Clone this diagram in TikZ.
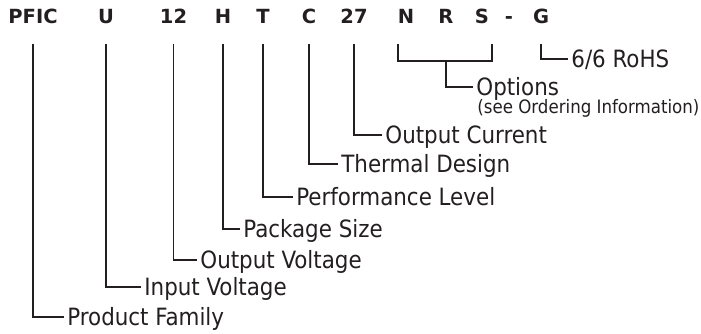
\documentclass[tikz,border=0pt]{standalone}
\usepackage{fontspec}
\setmainfont{DejaVu Sans}
\newfontfamily\labelfont{DejaVu Sans Condensed}
\definecolor{ink}{HTML}{231F20}
\begin{document}
\begin{tikzpicture}[x=1pt, y=1pt, line width=1.8pt, color=ink,
    code/.style={font=\fontsize{19.5}{20}\selectfont\bfseries, anchor=base, inner sep=0pt, text depth=0pt},
    lbl/.style={font=\labelfont\fontsize{23.8}{25}\selectfont, anchor=west, inner xsep=2.5pt, inner ysep=0pt, text height=17pt, text depth=0pt}]
            \useasboundingbox (0,0) rectangle (701,-334);
            \def \t {-24}
            \def \d {-19pt}
            \node[code] (pfic) at (33,\t) {PFIC};
            \node[code] (u) at (106,\t) {U};
            \node[code] (vo) at (173.5,\t) {12};
            \node[code] (h) at (223,\t) {H};
            \node[code] (t) at (263,\t) {T};
            \node[code] (c) at (309,\t) {C};
            \node[code] (io) at (354,\t) {27};
            \node[code] (n) at (406,\t) {N};
            \node[code] (r) at (446,\t) {R};
            \node[code] (s) at (482,\t) {S};
            \node[code] (dash) at (509,\t) {-};
            \node[code] (g) at (541,\t) {G};
            \node[lbl] (fam) at (64,-317) {Product Family};
            \node[lbl] (vin) at (141,-287) {Input Voltage};
            \node[lbl] (vout) at (197,-260) {Output Voltage};
            \node[lbl] (pkg) at (240,-229) {Package Size};
            \node[lbl] (perf) at (293,-197) {Performance Level};
            \node[lbl] (therm) at (338,-164) {Thermal Design};
            \node[lbl] (iout) at (382,-135) {Output Current};
            \node[lbl] (opt) at (473,-87) {Options};
            \node[anchor=base west, inner sep=0pt, font=\labelfont\fontsize{18.5}{20}\selectfont] (see) at ([xshift=3.5pt,yshift=-18pt]opt.base west) {(see Ordering Information)};
            \node[lbl] (rohs) at (568,-59) {6/6 RoHS};
            \draw ([yshift=\d]pfic.south) |- (fam.west);
            \draw ([yshift=\d]u.south) |- (vin.west);
            \draw ([yshift=\d]vo.south) |- (vout.west);
            \draw ([yshift=\d]h.south) |- (pkg.west);
            \draw ([yshift=\d]t.south) |- (perf.west);
            \draw ([yshift=\d]c.south) |- (therm.west);
            \draw ([yshift=\d]io.south) |- (iout.west);
            \coordinate (brk) at ([yshift=-36pt]r.south);
            \draw ([xshift=-8pt,yshift=\d]n.south) |- (brk) -| ([xshift=10pt,yshift=\d]s.south);
            \draw (brk) |- (opt.west);
            \draw ([yshift=\d]g.south) |- (rohs.west);
        \end{tikzpicture}
\end{document}
